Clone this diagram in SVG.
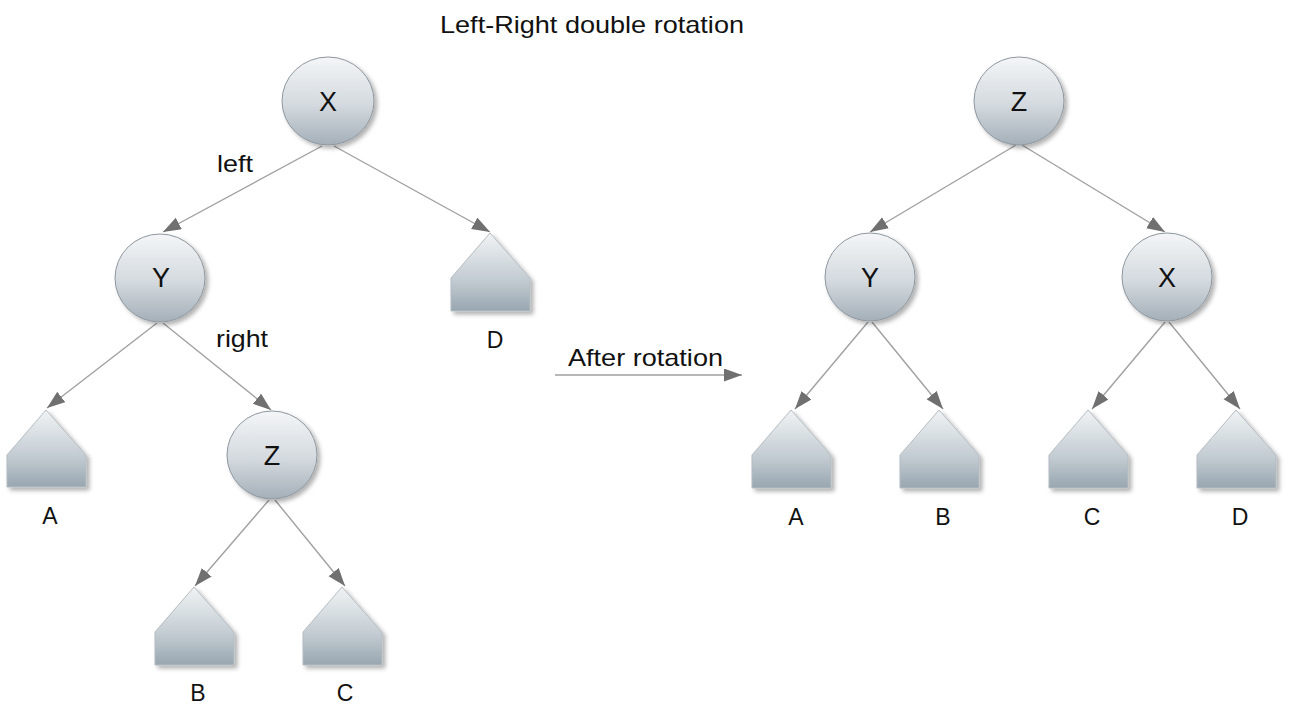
<svg xmlns="http://www.w3.org/2000/svg" width="1299" height="717" viewBox="0 0 1299 717">
<style>
.t{font-family:"Liberation Sans",Arial,sans-serif;fill:#111}
.lbl{font-size:23px;text-anchor:middle}
.nl{font-size:27px;text-anchor:middle}
.big{font-size:24px}
.c{fill:url(#gc);stroke:#8e979f;stroke-width:1;filter:url(#sh)}
.p{fill:url(#gp);stroke:#b4bcc2;stroke-width:1;filter:url(#sh)}
.e{stroke:#a0a0a0;stroke-width:1.4;fill:none;marker-end:url(#ah)}
</style>
<defs>
<linearGradient id="gc" x1="0" y1="0" x2="0" y2="1">
<stop offset="0" stop-color="#f4f6f8"/>
<stop offset="0.55" stop-color="#d3d9de"/>
<stop offset="1" stop-color="#a4afb8"/>
</linearGradient>
<linearGradient id="gp" x1="0" y1="0" x2="0" y2="1">
<stop offset="0" stop-color="#f0f3f5"/>
<stop offset="0.6" stop-color="#c3ccd2"/>
<stop offset="1" stop-color="#98a6b0"/>
</linearGradient>
<filter id="sh" x="-20%" y="-20%" width="150%" height="150%">
<feDropShadow dx="3" dy="3" stdDeviation="2" flood-color="#000" flood-opacity="0.3"/>
</filter>
<marker id="ah" markerUnits="userSpaceOnUse" markerWidth="20" markerHeight="14" refX="18" refY="6.5" orient="auto">
<path d="M0,0 L18,6.5 L0,13 Z" fill="#707070"/>
</marker>
</defs>
<rect width="1299" height="717" fill="#fff"/>
<text class="t big" x="440" y="33" textLength="304" lengthAdjust="spacingAndGlyphs">Left-Right double rotation</text>
<g id="connectors">
<line class="e" x1="322" y1="146" x2="163" y2="232"/>
<line class="e" x1="334" y1="146" x2="490" y2="232"/>
<line class="e" x1="157" y1="323" x2="47" y2="408"/>
<line class="e" x1="163" y1="323" x2="271" y2="410"/>
<line class="e" x1="269" y1="500" x2="195" y2="586"/>
<line class="e" x1="275" y1="500" x2="345" y2="586"/>
<line class="e" x1="1016" y1="145" x2="870" y2="232"/>
<line class="e" x1="1022" y1="145" x2="1165" y2="232"/>
<line class="e" x1="868" y1="322" x2="795" y2="409"/>
<line class="e" x1="872" y1="322" x2="943" y2="409"/>
<line class="e" x1="1165" y1="322" x2="1092" y2="409"/>
<line class="e" x1="1169" y1="322" x2="1240" y2="409"/>
<line class="e" x1="555" y1="375" x2="742" y2="375"/>
<text class="t big" x="217" y="172" textLength="36" lengthAdjust="spacingAndGlyphs">left</text>
<text class="t big" x="216" y="347" textLength="52" lengthAdjust="spacingAndGlyphs">right</text>
<text class="t big" x="568" y="366" textLength="155" lengthAdjust="spacingAndGlyphs">After rotation</text>
</g>
<g id="nX1"><ellipse class="c" cx="328" cy="101" rx="46" ry="44"/><text class="t nl" x="328" y="111">X</text></g>
<g id="nY1"><ellipse class="c" cx="160" cy="278" rx="45" ry="44"/><text class="t nl" x="161" y="287">Y</text></g>
<g id="nZ1"><ellipse class="c" cx="272" cy="455" rx="45" ry="44"/><text class="t nl" x="272" y="465">Z</text></g>
<g id="nA1"><path class="p" d="M46,410 L86,455 L86,487 L7,487 L7,455 Z"/><text class="t lbl" x="50" y="524">A</text></g>
<g id="nD1"><path class="p" d="M490,233 L530,278 L530,311 L451,311 L451,278 Z"/><text class="t lbl" x="495" y="348">D</text></g>
<g id="nB1"><path class="p" d="M194,587 L234,632 L234,665 L155,665 L155,632 Z"/><text class="t lbl" x="198" y="701">B</text></g>
<g id="nC1"><path class="p" d="M342,587 L382,632 L382,665 L303,665 L303,632 Z"/><text class="t lbl" x="345" y="701">C</text></g>
<g id="nZ2"><ellipse class="c" cx="1019" cy="101" rx="45" ry="44"/><text class="t nl" x="1019" y="111">Z</text></g>
<g id="nY2"><ellipse class="c" cx="870" cy="277" rx="45" ry="44"/><text class="t nl" x="870" y="287">Y</text></g>
<g id="nX2"><ellipse class="c" cx="1167" cy="277" rx="45" ry="44"/><text class="t nl" x="1167" y="287">X</text></g>
<g id="nA2"><path class="p" d="M791,410 L831,455 L831,488 L752,488 L752,455 Z"/><text class="t lbl" x="796" y="525">A</text></g>
<g id="nB2"><path class="p" d="M939,410 L979,455 L979,488 L900,488 L900,455 Z"/><text class="t lbl" x="943" y="525">B</text></g>
<g id="nC2"><path class="p" d="M1088,410 L1128,455 L1128,488 L1049,488 L1049,455 Z"/><text class="t lbl" x="1092" y="525">C</text></g>
<g id="nD2"><path class="p" d="M1236,410 L1276,455 L1276,488 L1197,488 L1197,455 Z"/><text class="t lbl" x="1240" y="525">D</text></g>
</svg>
